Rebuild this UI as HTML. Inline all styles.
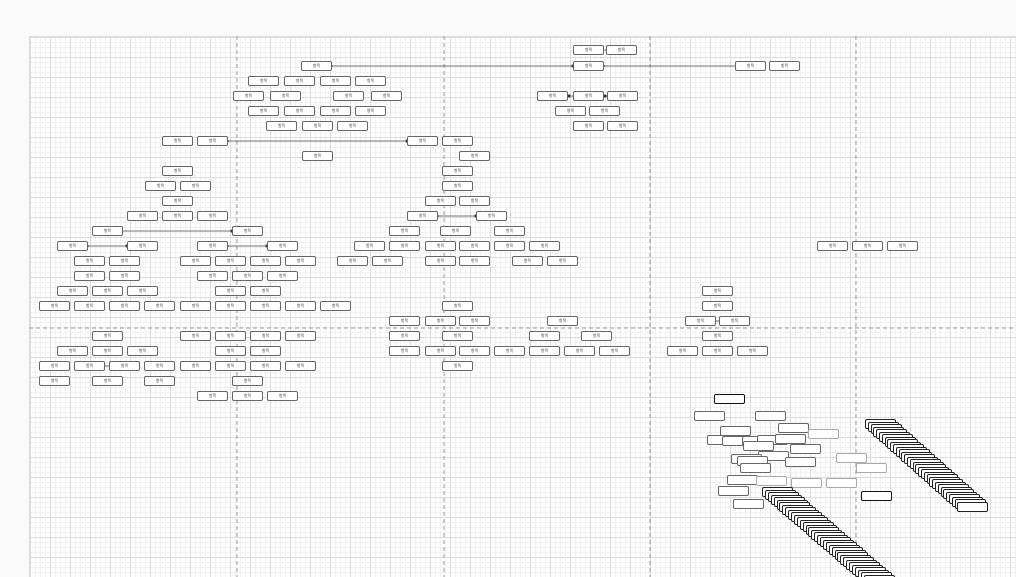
<!DOCTYPE html>
<html><head><meta charset="utf-8">
<style>
html,body{margin:0;padding:0;background:#fafafa;}
#wrap{position:relative;width:1016px;height:577px;overflow:hidden;background:#fafafa;font-family:"Liberation Sans","Noto Sans CJK KR",sans-serif;}
#canvas{position:absolute;left:29px;top:36px;width:1000px;height:560px;background-color:#fff;
background-image:
linear-gradient(#dcdcdc 1px,transparent 1px),
linear-gradient(90deg,#dcdcdc 1px,transparent 1px),
linear-gradient(#f1f1f1 1px,transparent 1px),
linear-gradient(90deg,#f1f1f1 1px,transparent 1px);
background-size:20px 20px,20px 20px,5px 5px,5px 5px;
border-top:1px solid #ddd;border-left:1px solid #ddd;}
.b{position:absolute;width:29px;height:8px;border:1px solid #666;border-radius:2px;background:#fff;font-size:4px;line-height:8px;text-align:center;color:#444;overflow:hidden;white-space:nowrap;}
.l{background:#fff;border-color:#aaa;}
.s{border-color:#111;}
svg{position:absolute;left:0;top:0;}
</style></head><body><div id="wrap"><div id="canvas"></div>
<svg width="1016" height="577">
<g stroke="#999" stroke-dasharray="4,3" stroke-width="1">
<line x1="237" y1="36" x2="237" y2="577"/>
<line x1="444" y1="36" x2="444" y2="577"/>
<line x1="650" y1="36" x2="650" y2="577"/>
<line x1="856" y1="36" x2="856" y2="577"/>
<line x1="29" y1="328" x2="1016" y2="328"/>
</g>
<g stroke="#444" stroke-width="0.8" fill="#222">
<line x1="331" y1="66" x2="735" y2="66"/><circle cx="331" cy="66" r="1.2"/><circle cx="573" cy="66" r="1.2"/><circle cx="603" cy="66" r="1.2"/>
<line x1="227" y1="141" x2="407" y2="141"/><circle cx="407" cy="141" r="1.2"/><circle cx="227" cy="141" r="1.2"/>
<line x1="116" y1="231" x2="232" y2="231"/><circle cx="116" cy="231" r="1.2"/><circle cx="232" cy="231" r="1.2"/>
<line x1="87" y1="246" x2="127" y2="246"/><circle cx="87" cy="246" r="1.2"/><circle cx="127" cy="246" r="1.2"/>
<line x1="227" y1="246" x2="267" y2="246"/><circle cx="227" cy="246" r="1.2"/><circle cx="267" cy="246" r="1.2"/>
<line x1="437" y1="216" x2="476" y2="216"/><circle cx="437" cy="216" r="1.2"/><circle cx="476" cy="216" r="1.2"/>
<line x1="567" y1="96" x2="607" y2="96"/><circle cx="569" cy="96" r="1.2"/><circle cx="605" cy="96" r="1.2"/>
<line x1="603" y1="50" x2="606" y2="50"/>
<line x1="715" y1="321" x2="719" y2="321"/>
<line x1="104" y1="366" x2="109" y2="366"/>
</g>
</svg>
<div id="boxes"></div>
</div>
<script>
var rows={
50:[588,621],66:[316,588,750,784],81:[263,299,335,370],96:[248,285,348,386,552,588,622],
111:[263,299,335,370,570,604],126:[281,317,352,588,622],141:[177,212,422,457],156:[317,474],
171:[177,457],186:[160,195,457],201:[177,440,474],216:[142,177,212,422,491],231:[107,247,404,455,509],
246:[72,142,212,282,369,404,440,474,509,544,832,867,902],261:[89,124,195,230,265,300,352,387,440,474,527,562],
276:[89,124,212,247,282],291:[72,107,142,230,265,717],306:[54,89,124,159,195,230,265,300,335,457,717],
321:[404,440,474,562,700,734],336:[107,195,230,265,300,404,457,544,596,717],
351:[72,107,142,230,265,404,440,474,509,544,579,614,682,717,752],366:[54,89,124,159,195,230,265,300,457],
381:[54,107,159,247],396:[212,247,282]};
var h='';
for(var y in rows){rows[y].forEach(function(x){h+='<div class="b" style="left:'+(x-15)+'px;top:'+(y-5)+'px">항목</div>';});}
var sc=[[729,399,'s'],[709,416,''],[770,416,''],[735,431,''],[793,428,''],[823,434,'l'],[722,440,''],[737,441,''],[757,441,''],[772,440,''],[790,439,''],[758,446,''],[805,449,''],[773,456,''],[851,458,'l'],[746,459,''],[752,461,''],[800,462,''],[871,468,'l'],[755,468,''],[742,480,''],[771,481,'l'],[806,483,'l'],[841,483,'l'],[733,491,''],[876,496,'s'],[748,504,'']];
sc.forEach(function(p){h+='<div class="b '+p[2]+'" style="left:'+(p[0]-15)+'px;top:'+(p[1]-5)+'px"></div>';});
for(var i=0;i<34;i++){h+='<div class="b" style="left:'+(865+i*2.8)+'px;top:'+(419+i*2.5)+'px;border-color:#222"></div>';}
for(var i=0;i<36;i++){h+='<div class="b" style="left:'+(762+i*2.9)+'px;top:'+(487+i*2.5)+'px;border-color:#222"></div>';}
document.getElementById('boxes').innerHTML=h;
</script>
</body></html>
